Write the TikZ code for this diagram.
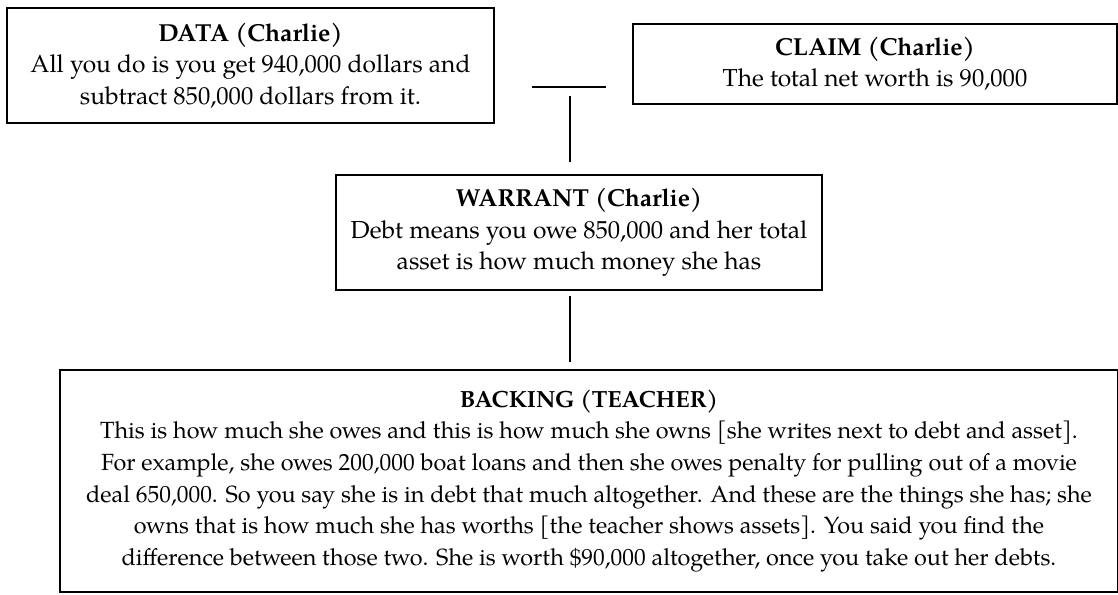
\documentclass[tikz,border=0pt]{standalone}
\usepackage{fontspec}
\setmainfont{TeX Gyre Pagella}
\usetikzlibrary{positioning}
\newcommand{\pxu}{0.47pt}

\begin{document}
\begin{tikzpicture}[x=\pxu, y=-\pxu,
    argbox/.style={draw, line width=0.7pt, align=center, inner sep=0pt,
      font=\fontsize{11.55}{14.7}\selectfont},
    link/.style={line width=0.7pt}]
        % Canvas
        \useasboundingbox (0,0) rectangle (1118,594);

        % Boxes
        \node[argbox, minimum width=487*\pxu, minimum height=115*\pxu] (data) at (250.5,65.5)
            {\textbf{DATA (Charlie)}\\ All you do is you get 940,000 dollars and\\ subtract 850,000 dollars from it.};
        \node[argbox, minimum width=484*\pxu, minimum height=80*\pxu] (claim) at (875,64)
            {\textbf{CLAIM (Charlie)}\\ The total net worth is 90,000};
        \node[argbox, minimum width=486*\pxu, minimum height=115*\pxu] (warrant) at (579,232.5)
            {\textbf{WARRANT (Charlie)}\\ Debt means you owe 850,000 and her total\\ asset is how much money she has};
        \node[argbox, minimum width=1058*\pxu, minimum height=222*\pxu,
              font=\fontsize{11}{14.9}\selectfont] (backing) at (589,481)
            {\textbf{BACKING (TEACHER)}\\
             This is how much she owes and this is how much she owns [she writes next to debt and asset].\\
             For example, she owes 200,000 boat loans and then she owes penalty for pulling out of a movie\\
             deal 650,000. So you say she is in debt that much altogether. And these are the things she has; she\\
             owns that is how much she has worths [the teacher shows assets]. You said you find the\\
             difference between those two. She is worth \$90,000 altogether, once you take out her debts.};

        % Connectors
        \coordinate (tee) at (570,87);
        \draw[link, shorten <=37*\pxu, shorten >=26*\pxu] (data.east |- tee) -- (claim.west |- tee);
        \draw[link, shorten <=12*\pxu, shorten >=9*\pxu] ([xshift=-9*\pxu]warrant.north) -- (tee);
        \draw[link, shorten <=5*\pxu, shorten >=7*\pxu] ([xshift=-9*\pxu]warrant.south) -- ([xshift=-9*\pxu]warrant.south |- backing.north);
    \end{tikzpicture}
\end{document}
